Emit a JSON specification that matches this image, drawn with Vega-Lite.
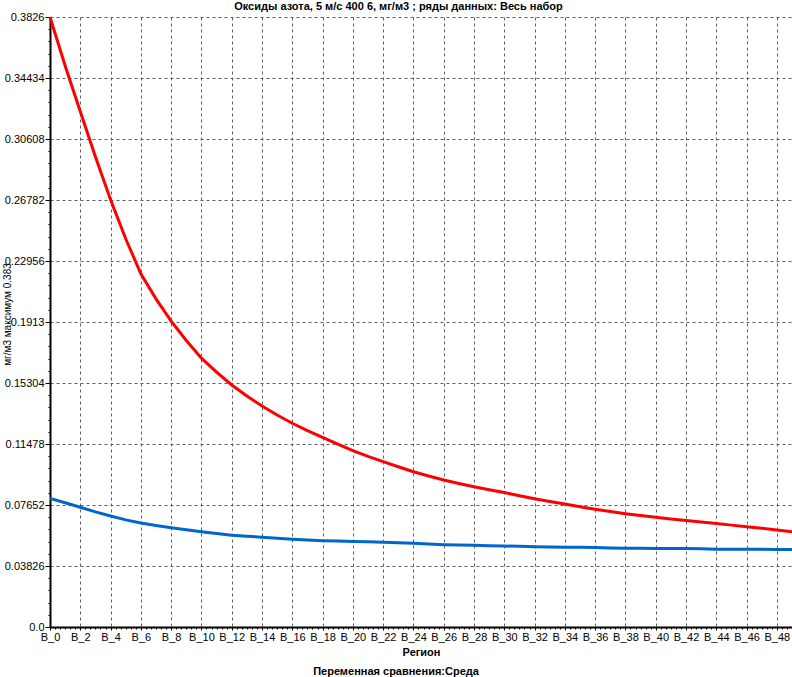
{
"$schema": "https://vega.github.io/schema/vega-lite/v6.json",
"width": 742,
"height": 610,
"autosize": {"type": "none"},
"padding": {"left": 50, "top": 17, "right": 0, "bottom": 50},
"background": "white",
"title": {"text": "Переменная сравнения:Среда", "orient": "bottom", "anchor": "middle", "dx": -25, "offset": 9, "fontSize": 11, "fontWeight": "bold", "font": "Liberation Sans", "color": "black"},
"config": {"view": {"stroke": null}, "font": "Liberation Sans"},
"data": {"values": [
{"idx":0,"region":"B_0","series":"red","value":0.3826},{"idx":1,"region":"B_1","series":"red","value":0.352},{"idx":2,"region":"B_2","series":"red","value":0.3233},{"idx":3,"region":"B_3","series":"red","value":0.295},{"idx":4,"region":"B_4","series":"red","value":0.268},{"idx":5,"region":"B_5","series":"red","value":0.2435},{"idx":6,"region":"B_6","series":"red","value":0.2215},{"idx":7,"region":"B_7","series":"red","value":0.2058},{"idx":8,"region":"B_8","series":"red","value":0.1918},{"idx":9,"region":"B_9","series":"red","value":0.1797},
{"idx":10,"region":"B_10","series":"red","value":0.1686},{"idx":11,"region":"B_11","series":"red","value":0.1598},{"idx":12,"region":"B_12","series":"red","value":0.1518},{"idx":13,"region":"B_13","series":"red","value":0.1449},{"idx":14,"region":"B_14","series":"red","value":0.1386},{"idx":15,"region":"B_15","series":"red","value":0.133},{"idx":16,"region":"B_16","series":"red","value":0.1278},{"idx":17,"region":"B_17","series":"red","value":0.1232},{"idx":18,"region":"B_18","series":"red","value":0.119},{"idx":19,"region":"B_19","series":"red","value":0.1147},
{"idx":20,"region":"B_20","series":"red","value":0.1106},{"idx":21,"region":"B_21","series":"red","value":0.107},{"idx":22,"region":"B_22","series":"red","value":0.1037},{"idx":23,"region":"B_23","series":"red","value":0.1005},{"idx":24,"region":"B_24","series":"red","value":0.0974},{"idx":25,"region":"B_25","series":"red","value":0.0947},{"idx":26,"region":"B_26","series":"red","value":0.0922},{"idx":27,"region":"B_27","series":"red","value":0.09},{"idx":28,"region":"B_28","series":"red","value":0.088},{"idx":29,"region":"B_29","series":"red","value":0.0861},
{"idx":30,"region":"B_30","series":"red","value":0.0843},{"idx":31,"region":"B_31","series":"red","value":0.0823},{"idx":32,"region":"B_32","series":"red","value":0.0804},{"idx":33,"region":"B_33","series":"red","value":0.0787},{"idx":34,"region":"B_34","series":"red","value":0.0771},{"idx":35,"region":"B_35","series":"red","value":0.0754},{"idx":36,"region":"B_36","series":"red","value":0.0738},{"idx":37,"region":"B_37","series":"red","value":0.0724},{"idx":38,"region":"B_38","series":"red","value":0.0711},{"idx":39,"region":"B_39","series":"red","value":0.0699},
{"idx":40,"region":"B_40","series":"red","value":0.0688},{"idx":41,"region":"B_41","series":"red","value":0.0678},{"idx":42,"region":"B_42","series":"red","value":0.0668},{"idx":43,"region":"B_43","series":"red","value":0.0659},{"idx":44,"region":"B_44","series":"red","value":0.0649},{"idx":45,"region":"B_45","series":"red","value":0.0639},{"idx":46,"region":"B_46","series":"red","value":0.0629},{"idx":47,"region":"B_47","series":"red","value":0.0619},{"idx":48,"region":"B_48","series":"red","value":0.0609},{"idx":49,"region":"B_49","series":"red","value":0.0598},
{"idx":0,"region":"B_0","series":"blue","value":0.0807},{"idx":1,"region":"B_1","series":"blue","value":0.0779},{"idx":2,"region":"B_2","series":"blue","value":0.0751},{"idx":3,"region":"B_3","series":"blue","value":0.0722},{"idx":4,"region":"B_4","series":"blue","value":0.0696},{"idx":5,"region":"B_5","series":"blue","value":0.0672},{"idx":6,"region":"B_6","series":"blue","value":0.0652},{"idx":7,"region":"B_7","series":"blue","value":0.0637},{"idx":8,"region":"B_8","series":"blue","value":0.0623},{"idx":9,"region":"B_9","series":"blue","value":0.061},
{"idx":10,"region":"B_10","series":"blue","value":0.0598},{"idx":11,"region":"B_11","series":"blue","value":0.0586},{"idx":12,"region":"B_12","series":"blue","value":0.0576},{"idx":13,"region":"B_13","series":"blue","value":0.0569},{"idx":14,"region":"B_14","series":"blue","value":0.0563},{"idx":15,"region":"B_15","series":"blue","value":0.0556},{"idx":16,"region":"B_16","series":"blue","value":0.055},{"idx":17,"region":"B_17","series":"blue","value":0.0545},{"idx":18,"region":"B_18","series":"blue","value":0.0541},{"idx":19,"region":"B_19","series":"blue","value":0.0539},
{"idx":20,"region":"B_20","series":"blue","value":0.0537},{"idx":21,"region":"B_21","series":"blue","value":0.0534},{"idx":22,"region":"B_22","series":"blue","value":0.0531},{"idx":23,"region":"B_23","series":"blue","value":0.0528},{"idx":24,"region":"B_24","series":"blue","value":0.0525},{"idx":25,"region":"B_25","series":"blue","value":0.052},{"idx":26,"region":"B_26","series":"blue","value":0.0516},{"idx":27,"region":"B_27","series":"blue","value":0.0514},{"idx":28,"region":"B_28","series":"blue","value":0.0512},{"idx":29,"region":"B_29","series":"blue","value":0.051},
{"idx":30,"region":"B_30","series":"blue","value":0.0508},{"idx":31,"region":"B_31","series":"blue","value":0.0506},{"idx":32,"region":"B_32","series":"blue","value":0.0504},{"idx":33,"region":"B_33","series":"blue","value":0.0502},{"idx":34,"region":"B_34","series":"blue","value":0.05},{"idx":35,"region":"B_35","series":"blue","value":0.05},{"idx":36,"region":"B_36","series":"blue","value":0.0499},{"idx":37,"region":"B_37","series":"blue","value":0.0496},{"idx":38,"region":"B_38","series":"blue","value":0.0494},{"idx":39,"region":"B_39","series":"blue","value":0.0494},
{"idx":40,"region":"B_40","series":"blue","value":0.0493},{"idx":41,"region":"B_41","series":"blue","value":0.0493},{"idx":42,"region":"B_42","series":"blue","value":0.0492},{"idx":43,"region":"B_43","series":"blue","value":0.0491},{"idx":44,"region":"B_44","series":"blue","value":0.0488},{"idx":45,"region":"B_45","series":"blue","value":0.0487},{"idx":46,"region":"B_46","series":"blue","value":0.0487},{"idx":47,"region":"B_47","series":"blue","value":0.0487},{"idx":48,"region":"B_48","series":"blue","value":0.0486},{"idx":49,"region":"B_49","series":"blue","value":0.0486}
]},
"encoding": {
"y": {"field": "value", "type": "quantitative",
 "scale": {"domain": [0, 0.3826], "nice": false, "zero": true},
 "axis": {
  "values": [0,0.007652,0.015304,0.022956,0.030608,0.03826,0.045912,0.053564,0.061216,0.068868,0.07652,0.084172,0.091824,0.099476,0.107128,0.11478,0.122432,0.130084,0.137736,0.145388,0.15304,0.160692,0.168344,0.175996,0.183648,0.1913,0.198952,0.206604,0.214256,0.221908,0.22956,0.237212,0.244864,0.252516,0.260168,0.26782,0.275472,0.283124,0.290776,0.298428,0.30608,0.313732,0.321384,0.329036,0.336688,0.34434,0.351992,0.359644,0.367296,0.374948,0.3826],
  "labelExpr": "abs(datum.value/0.03826 - round(datum.value/0.03826)) < 0.01 ? (datum.value == 0 ? '0.0' : format(datum.value, '.5~g')) : ''",
  "gridOpacity": {"condition": {"test": "abs(datum.value/0.03826 - round(datum.value/0.03826)) < 0.01 && datum.value > 0", "value": 1}, "value": 0},
  "tickSize": {"condition": {"test": "abs(datum.value/0.03826 - round(datum.value/0.03826)) < 0.01", "value": 5}, "value": 2},
  "gridDash": [3, 3], "gridColor": "#606060", "gridWidth": 1,
  "tickColor": "black", "tickWidth": 1,
  "domainColor": "black", "domainWidth": 2,
  "labelFontSize": 11, "labelColor": "black", "labelPadding": 1,
  "labelOverlap": false, "labelBound": false, "labelFlush": false,
  "title": "мг/м3  максимум 0.383", "titleFontSize": 10, "titleFontWeight": "normal", "titleColor": "black", "titleX": -43, "titleY": 297, "titleBaseline": "middle"
 }
}
},
"layer": [
{
 "transform": [{"filter": "datum.series == 'blue'"}],
 "mark": {"type": "line", "strokeWidth": 3, "color": "#0066cc"},
 "encoding": {
  "x": {"field": "idx", "type": "quantitative",
   "scale": {"domain": [0, 49], "nice": false, "zero": false},
   "axis": {
    "orient": "bottom",
    "values": [0,0.3333,0.6667,1,1.3333,1.6667,2,2.3333,2.6667,3,3.3333,3.6667,4,4.3333,4.6667,5,5.3333,5.6667,6,6.3333,6.6667,7,7.3333,7.6667,8,8.3333,8.6667,9,9.3333,9.6667,10,10.3333,10.6667,11,11.3333,11.6667,12,12.3333,12.6667,13,13.3333,13.6667,14,14.3333,14.6667,15,15.3333,15.6667,16,16.3333,16.6667,17,17.3333,17.6667,18,18.3333,18.6667,19,19.3333,19.6667,20,20.3333,20.6667,21,21.3333,21.6667,22,22.3333,22.6667,23,23.3333,23.6667,24,24.3333,24.6667,25,25.3333,25.6667,26,26.3333,26.6667,27,27.3333,27.6667,28,28.3333,28.6667,29,29.3333,29.6667,30,30.3333,30.6667,31,31.3333,31.6667,32,32.3333,32.6667,33,33.3333,33.6667,34,34.3333,34.6667,35,35.3333,35.6667,36,36.3333,36.6667,37,37.3333,37.6667,38,38.3333,38.6667,39,39.3333,39.6667,40,40.3333,40.6667,41,41.3333,41.6667,42,42.3333,42.6667,43,43.3333,43.6667,44,44.3333,44.6667,45,45.3333,45.6667,46,46.3333,46.6667,47,47.3333,47.6667,48,48.3333,48.6667,49],
    "labelExpr": "abs(datum.value - round(datum.value)) < 0.01 && round(datum.value) % 2 == 0 ? 'B_' + round(datum.value) : ''",
    "gridOpacity": {"condition": {"test": "abs(datum.value - round(datum.value)) < 0.01 && round(datum.value) % 2 == 0 && datum.value > 0.5", "value": 1}, "value": 0},
    "tickSize": {"condition": {"test": "abs(datum.value - round(datum.value)) < 0.01 && round(datum.value) % 2 == 0", "value": 3}, "value": 2},
    "gridDash": [3, 3], "gridColor": "#606060", "gridWidth": 1,
    "tickColor": "black", "tickWidth": 1,
    "domainColor": "black", "domainWidth": 2,
    "labelFontSize": 11, "labelColor": "black", "labelPadding": 1,
    "labelOverlap": false, "labelBound": false, "labelFlush": false,
    "title": "Регион", "titleFontSize": 11, "titleFontWeight": "bold", "titleColor": "black", "titlePadding": 4
   }
  }
 }
},
{
 "transform": [{"filter": "datum.series == 'red'"}],
 "mark": {"type": "line", "strokeWidth": 3, "color": "#ff0000"},
 "encoding": {
  "x": {"field": "idx", "type": "quantitative",
   "axis": {
    "orient": "top", "labels": false, "ticks": false, "domain": false, "grid": false,
    "title": "Оксиды азота, 5 м/с 400 6,  мг/м3  ; ряды данных: Весь набор",
    "titleFontSize": 11, "titleFontWeight": "bold", "titleColor": "black",
    "titleX": 348, "titleY": -11, "titleBaseline": "middle"
   }
  }
 }
}
],
"resolve": {"axis": {"x": "independent"}}
}
